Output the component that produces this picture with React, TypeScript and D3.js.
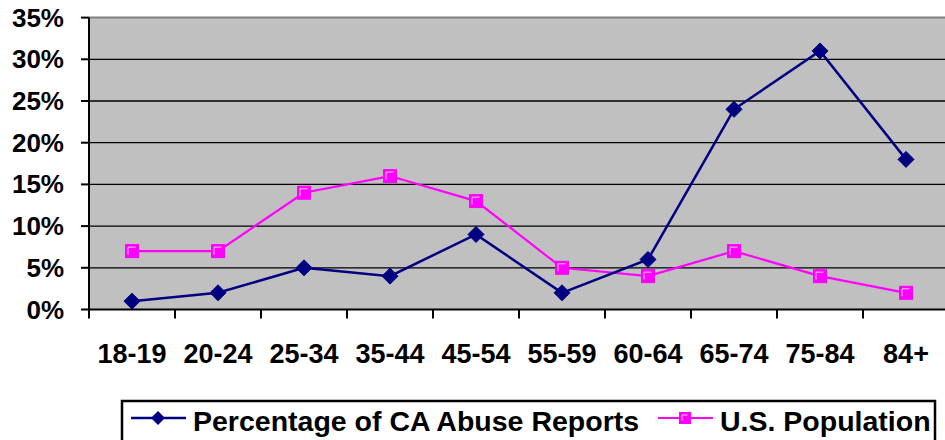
import React from "react";
import * as d3 from "d3";

const categories = ["18-19", "20-24", "25-34", "35-44", "45-54", "55-59", "60-64", "65-74", "75-84", "84+"];
const abuseReports = [1, 2, 5, 4, 9, 2, 6, 24, 31, 18];
const usPopulation = [7, 7, 14, 16, 13, 5, 4, 7, 4, 2];
const yTicks = [0, 5, 10, 15, 20, 25, 30, 35];
const seriesNames = ["Percentage of CA Abuse Reports", "U.S. Population"];

const W = 945;
const H = 440;
const left = 89;
const right = 949;
const top = 17.6;
const bottom = 309.5;
const FONT = "Arial, 'Liberation Sans', sans-serif";
const BLUE = "#000080";
const PINK = "#FF00FF";

export default function App() {
  const x = d3.scaleBand<string>().domain(categories).range([left, right]);
  const y = d3.scaleLinear().domain([0, 35]).range([bottom, top]);
  const cx = (c: string) => (x(c) as number) + x.bandwidth() / 2;
  const line = d3
    .line<number>()
    .x((_, i) => cx(categories[i]))
    .y((d) => y(d));

  const diamond = (px: number, py: number, r: number) =>
    `M${px},${py - r}L${px + r},${py}L${px},${py + r}L${px - r},${py}Z`;

  const square = (px: number, py: number, key: string, s = 6.5) => (
    <g key={key}>
      <rect x={px - s} y={py - s} width={2 * s} height={2 * s} fill={PINK} stroke={PINK} strokeWidth={1} />
      <path d={`M${px - s + 2.5},${py + s - 3}V${py - s + 2.5}H${px + s - 3}`} fill="none" stroke="#ffc8ff" strokeWidth={1} />
    </g>
  );

  return (
    <svg width={W} height={H} style={{ position: "absolute", left: 0, top: 0, background: "#fff" }}>
      <rect x={left} y={top} width={right - left} height={bottom - top} fill="#C0C0C0" />
      {yTicks.slice(1, -1).map((t) => (
        <line key={t} x1={left} x2={right} y1={y(t)} y2={y(t)} stroke="#000" strokeWidth={1.3} />
      ))}
      <line x1={left} x2={right} y1={y(35)} y2={y(35)} stroke="#808080" strokeWidth={2} />
      <line x1={left} x2={left} y1={top} y2={bottom + 1} stroke="#000" strokeWidth={2} />
      <line x1={left - 1} x2={right} y1={bottom} y2={bottom} stroke="#000" strokeWidth={2} />
      {yTicks.map((t) => (
        <g key={"yt" + t}>
          <line x1={left - 8} x2={left} y1={y(t)} y2={y(t)} stroke="#000" strokeWidth={2} />
          <text x={64} y={y(t) + 9} textAnchor="end" fontFamily={FONT} fontWeight="bold" fontSize={26} fill="#000">
            {t + "%"}
          </text>
        </g>
      ))}
      {categories.map((c) => (
        <g key={"xt" + c}>
          <line x1={x(c) as number} x2={x(c) as number} y1={bottom} y2={bottom + 9} stroke="#000" strokeWidth={2} />
          <text x={cx(c)} y={362.5} textAnchor="middle" fontFamily={FONT} fontWeight="bold" fontSize={27} fill="#000">
            {c}
          </text>
        </g>
      ))}
      <path d={line(usPopulation) || ""} fill="none" stroke={PINK} strokeWidth={2.2} />
      <path d={line(abuseReports) || ""} fill="none" stroke={BLUE} strokeWidth={2.5} />
      {usPopulation.map((v, i) => square(cx(categories[i]), y(v), "p" + i))}
      {abuseReports.map((v, i) => (
        <path key={"b" + i} d={diamond(cx(categories[i]), y(v), 8)} fill={BLUE} stroke={BLUE} strokeWidth={1} />
      ))}
      <rect x={122} y={401} width={813} height={60} fill="#fff" stroke="#000" strokeWidth={2.5} />
      <line x1={131} x2={186} y1={418} y2={418} stroke={BLUE} strokeWidth={2.5} />
      <path d={diamond(158, 418, 7)} fill={BLUE} />
      <text x={193} y={431} fontFamily={FONT} fontWeight="bold" fontSize={28.5} fill="#000">
        {seriesNames[0]}
      </text>
      <line x1={658} x2={713} y1={418} y2={418} stroke={PINK} strokeWidth={2.2} />
      {square(685, 418, "leg", 5.5)}
      <text x={720} y={431} fontFamily={FONT} fontWeight="bold" fontSize={28.5} fill="#000">
        {seriesNames[1]}
      </text>
    </svg>
  );
}
